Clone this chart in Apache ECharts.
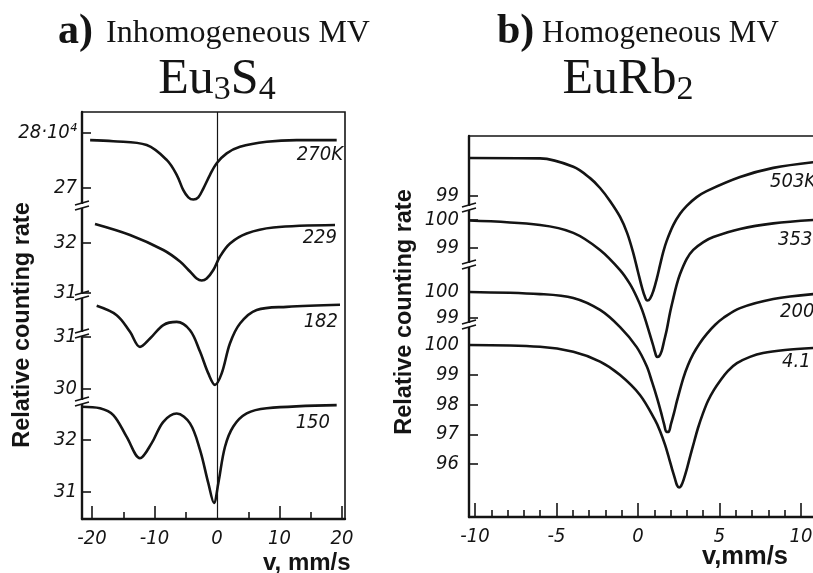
<!DOCTYPE html>
<html>
<head>
<meta charset="utf-8">
<title>Mössbauer spectra: Eu3S4 and EuRb2</title>
<script src="https://cdn.jsdelivr.net/npm/echarts@6/dist/echarts.min.js"></script>
<style>
  html, body { margin: 0; padding: 0; background: #fff; }
  #chart { width: 813px; height: 573px; }
</style>
</head>
<body>
<div id="chart"></div>
<script>
// ---------- data: velocity v (mm/s) and relative counting rate ----------
// a) Eu3S4 (counting rate in units of 10^4)
const eu3s4Temps = ['270K', '229', '182', '150'];
const v270 = [-20.3, -16.6, -11.25, -8.05, -6.45, -5.39, -4.59, -3.79, -2.99, -2.19, -1.12, -0.05, 1.55, 3.68, 7.95, 12.75, 19.15];
const rate270 = [27.87, 27.85, 27.78, 27.51, 27.24, 26.96, 26.83, 26.79, 26.83, 26.99, 27.24, 27.45, 27.63, 27.75, 27.84, 27.87, 27.87];
const v229 = [-19.52, -13.92, -8.59, -5.92, -4.32, -3.25, -2.45, -1.65, -0.59, 0.48, 2.08, 4.75, 9.01, 18.88];
const rate229 = [32.38, 32.16, 31.86, 31.63, 31.43, 31.29, 31.25, 31.29, 31.46, 31.73, 31.99, 32.19, 32.31, 32.36];
const v182 = [-19.25, -16.05, -13.92, -12.32, -10.72, -8.59, -6.45, -4.32, -2.72, -1.39, -0.32, 0.75, 2.08, 3.68, 6.35, 11.15, 19.68];
const rate182 = [31.60, 31.42, 31.10, 30.81, 30.97, 31.23, 31.29, 31.13, 30.72, 30.30, 30.08, 30.30, 30.88, 31.26, 31.52, 31.58, 31.62];
const v150 = [-21.6, -18.72, -16.59, -14.45, -12.32, -10.45, -8.59, -6.45, -4.32, -2.72, -1.39, -0.48, 0.21, 1.28, 2.61, 4.75, 7.95, 19.15];
const rate150 = [32.64, 32.61, 32.48, 32.06, 31.65, 31.94, 32.35, 32.51, 32.32, 31.81, 31.17, 30.79, 31.17, 31.87, 32.26, 32.51, 32.61, 32.67];

// b) EuRb2
const eurb2Temps = ['503K', '353', '200', '4.1'];
const v503 = [-10.37, -6.01, -3.97, -2.94, -2.33, -1.72, -1.10, -0.67, -0.31, 0.00, 0.25, 0.43, 0.57, 0.74, 0.94, 1.15, 1.35, 1.55, 1.76, 2.17, 2.58, 2.99, 3.60, 4.21, 6.26, 8.30, 10.74];
const rate503 = [100.0, 99.99, 99.77, 99.47, 99.21, 98.87, 98.45, 98.03, 97.53, 97.00, 96.58, 96.34, 96.25, 96.30, 96.50, 96.82, 97.18, 97.53, 97.82, 98.24, 98.53, 98.74, 98.97, 99.13, 99.50, 99.74, 99.89];
const v353 = [-10.37, -6.01, -3.97, -2.33, -1.10, -0.49, -0.08, 0.25, 0.53, 0.74, 0.94, 1.04, 1.17, 1.29, 1.45, 1.60, 1.76, 1.96, 2.17, 2.37, 2.58, 2.99, 3.39, 4.01, 4.62, 6.26, 8.30, 10.74];
const rate353 = [99.98, 99.82, 99.54, 98.93, 98.21, 97.71, 97.25, 96.79, 96.29, 95.89, 95.50, 95.29, 95.11, 95.13, 95.32, 95.68, 96.07, 96.68, 97.21, 97.68, 98.07, 98.61, 98.93, 99.21, 99.39, 99.68, 99.88, 100.0];
const v200 = [-10.37, -6.01, -3.97, -2.33, -1.10, -0.08, 0.53, 0.86, 1.17, 1.41, 1.60, 1.75, 1.87, 2.02, 2.21, 2.39, 2.78, 3.07, 3.39, 3.80, 4.21, 4.72, 5.23, 6.26, 8.30, 10.74];
const rate200 = [100.0, 99.92, 99.77, 99.31, 98.65, 97.88, 97.15, 96.54, 95.92, 95.38, 94.92, 94.62, 94.62, 94.92, 95.35, 95.81, 96.69, 97.19, 97.62, 98.04, 98.38, 98.73, 99.00, 99.38, 99.73, 99.92];
const v4 = [-10.37, -6.01, -3.97, -2.33, -1.10, 0.12, 1.04, 1.35, 1.66, 1.90, 2.09, 2.27, 2.39, 2.52, 2.64, 2.79, 2.98, 3.19, 3.44, 3.68, 3.99, 4.29, 4.66, 5.03, 5.52, 6.07, 6.87, 7.67, 9.02, 10.74];
const rate4 = [100.0, 99.94, 99.77, 99.44, 98.99, 98.32, 97.48, 97.11, 96.64, 96.20, 95.83, 95.50, 95.29, 95.21, 95.26, 95.46, 95.80, 96.24, 96.74, 97.21, 97.71, 98.12, 98.49, 98.79, 99.13, 99.39, 99.60, 99.73, 99.83, 99.90];

// tick values and their labels, one list per stacked curve
const eu3s4TickValues = [[28, 27], [32, 31], [31, 30], [32, 31]];
const eu3s4TickLabels = [['28·10⁴', '27'], ['32', '31'], ['31', '30'], ['32', '31']];
const eurb2TickValues = [[99], [100, 99], [100, 99], [100, 99, 98, 97, 96]];
const eurb2TickLabels = [['99'], ['100', '99'], ['100', '99'], ['100', '99', '98', '97', '96']];
const eu3s4VelocityLabels = [-20, -10, 0, 10, 20];
const eu3s4VelocityMajor = [-20, -10, 10, 20];
const eu3s4VelocityMinor = [-15, -5, 5, 15];
const eurb2VelocityLabels = [-10, -5, 0, 5, 10];
const eurb2VelocityMinor = [-9, -8, -7, -6, -4, -3, -2, -1, 1, 2, 3, 4, 6, 7, 8, 9, 11];

// ---------- layout ----------
const INK = '#141414';
const tickFont = "'DejaVu Sans Condensed', 'DejaVu Sans', sans-serif";
const serifFont = "'Liberation Serif', 'DejaVu Serif', serif";
const sansFont = "'Liberation Sans', Arial, sans-serif";

const panelA = { left: 82, top: 112, width: 263, height: 407, vMin: -21.6, vMax: 20.48, labelMargin: 5 };
const panelB = { left: 469, top: 136, width: 354, height: 381, vMin: -10.37, vMax: 11.35, labelMargin: 10 };

// each stacked curve has its own vertical scale: pixel row of one reference value, pixels per unit
const anchorsA = [
  { value: 28, y: 133, ppu: 55 },
  { value: 32, y: 243, ppu: 50 },
  { value: 31, y: 337, ppu: 52 },
  { value: 32, y: 440, ppu: 52 }
];
const anchorsB = [
  { value: 100, y: 158, ppu: 38 },
  { value: 100, y: 220, ppu: 28 },
  { value: 100, y: 292, ppu: 26 },
  { value: 100, y: 345, ppu: 29.75 }
];

const grids = [], xAxes = [], yAxes = [], series = [];

function tickLabelStyle(margin) {
  return { fontFamily: tickFont, fontStyle: 'italic', fontSize: 20, color: INK, margin: margin };
}

function addPanel(panel, anchors, vList, rList, tickVals, tickLabels, xSetup, markZero) {
  const bottomPx = panel.top + panel.height;
  anchors.forEach((a, i) => {
    const idx = grids.length;
    grids.push({
      left: panel.left, top: panel.top, width: panel.width, height: panel.height,
      show: i === 0, borderColor: INK, borderWidth: 1.6, backgroundColor: 'transparent',
      outerBoundsMode: 'none', containLabel: false
    });
    const xs = xSetup[i];
    xAxes.push({
      type: 'value', gridIndex: idx, min: panel.vMin, max: panel.vMax, position: 'bottom',
      show: !!xs,
      axisLine: { show: !!(xs && xs.line), onZero: false, lineStyle: { color: INK, width: 2.4 } },
      axisTick: xs ? { show: true, inside: true, length: xs.tickLen, customValues: xs.ticks, lineStyle: { color: INK, width: 1.6 } } : { show: false },
      axisLabel: xs && xs.labels ? Object.assign({ show: true, customValues: xs.labels }, tickLabelStyle(10)) : { show: false },
      splitLine: { show: false }
    });
    const lookup = {};
    tickVals[i].forEach((v, k) => { lookup[v] = tickLabels[i][k]; });
    yAxes.push({
      type: 'value', gridIndex: idx, position: 'left',
      min: a.value - (bottomPx - a.y) / a.ppu,
      max: a.value + (a.y - panel.top) / a.ppu,
      axisLine: { show: i === 0, onZero: false, lineStyle: { color: INK, width: 2.4 } },
      axisTick: { show: true, inside: true, length: 9, customValues: tickVals[i], lineStyle: { color: INK, width: 1.6 } },
      axisLabel: Object.assign({ show: true, customValues: tickVals[i], formatter: (v) => lookup[v] }, tickLabelStyle(panel.labelMargin)),
      splitLine: { show: false }
    });
    const s = {
      type: 'line', xAxisIndex: idx, yAxisIndex: idx,
      data: vList[i].map((v, k) => [v, rList[i][k]]),
      showSymbol: false, symbol: 'none', smooth: 0.35,
      lineStyle: { color: INK, width: 2.6 },
      silent: true
    };
    if (markZero && i === 0) {
      s.markLine = {
        silent: true, symbol: ['none', 'none'], label: { show: false },
        lineStyle: { color: INK, width: 1.2, type: 'solid' },
        data: [{ xAxis: 0 }]
      };
    }
    series.push(s);
  });
}

addPanel(panelA, anchorsA,
  [v270, v229, v182, v150], [rate270, rate229, rate182, rate150],
  eu3s4TickValues, eu3s4TickLabels,
  [
    { line: true, ticks: eu3s4VelocityMajor, tickLen: 13, labels: eu3s4VelocityLabels },
    { line: false, ticks: eu3s4VelocityMinor, tickLen: 7 },
    null, null
  ], true);

addPanel(panelB, anchorsB,
  [v503, v353, v200, v4], [rate503, rate353, rate200, rate4],
  eurb2TickValues, eurb2TickLabels,
  [
    { line: true, ticks: eurb2VelocityLabels, tickLen: 14, labels: eurb2VelocityLabels },
    { line: false, ticks: eurb2VelocityMinor, tickLen: 7 },
    null, null
  ], false);

// ---------- text and decorations ----------
const measureCtx = document.createElement('canvas').getContext('2d');
function textWidth(str, size, family, weight) {
  measureCtx.font = (weight || 'normal') + ' ' + size + 'px ' + family;
  return measureCtx.measureText(str).width;
}

// chemical formula with subscripts, centred on cx
function formula(parts, cx, cy, mainSize, subSize, drop) {
  const widths = parts.map(p => textWidth(p.t, p.sub ? subSize : mainSize, serifFont));
  const total = widths.reduce((a, b) => a + b, 0);
  let x = cx - total / 2;
  return parts.map((p, k) => {
    const el = {
      type: 'text', x: x, y: cy + (p.sub ? drop : 0), z: 10,
      style: { text: p.t, fontFamily: serifFont, fontSize: p.sub ? subSize : mainSize, fill: INK, verticalAlign: 'middle', align: 'left' }
    };
    x += widths[k];
    return el;
  });
}

// broken-axis marks on the vertical axis
function axisBreak(x, y) {
  return [
    { type: 'rect', z: 20, shape: { x: x - 4, y: y - 2, width: 8, height: 4 }, style: { fill: '#fff' } },
    { type: 'line', z: 21, shape: { x1: x - 7, y1: y - 1, x2: x + 7, y2: y - 5 }, style: { stroke: INK, lineWidth: 1.6 } },
    { type: 'line', z: 21, shape: { x1: x - 7, y1: y + 4, x2: x + 7, y2: y }, style: { stroke: INK, lineWidth: 1.6 } }
  ];
}

function curveLabel(text, x, y, align) {
  return {
    type: 'text', x: x, y: y, z: 10,
    style: { text: text, fontFamily: tickFont, fontStyle: 'italic', fontSize: 20, fill: INK, align: align, verticalAlign: 'middle' }
  };
}

function plainText(text, x, y, size, family, weight, align, rotation) {
  return {
    type: 'text', x: x, y: y, z: 10, rotation: rotation || 0,
    style: { text: text, fontFamily: family, fontSize: size, fontWeight: weight || 'normal', fill: INK, align: align || 'left', verticalAlign: 'middle' }
  };
}

const graphics = [];
// panel headings
graphics.push(plainText('a)', 58, 32, 42, serifFont, 'bold'));
graphics.push(plainText('Inhomogeneous MV', 106, 34, 32, serifFont));
graphics.push(plainText('b)', 497, 32, 42, serifFont, 'bold'));
graphics.push(plainText('Homogeneous MV', 542, 34, 31, serifFont));
formula([{ t: 'Eu' }, { t: '3', sub: true }, { t: 'S' }, { t: '4', sub: true }], 217, 80, 50, 34, 10).forEach(e => graphics.push(e));
formula([{ t: 'EuRb' }, { t: '2', sub: true }], 628, 80, 50, 34, 10).forEach(e => graphics.push(e));

// axis titles
graphics.push(plainText('Relative counting rate', 23, 325, 23.5, sansFont, 'bold', 'center', Math.PI / 2));
graphics.push(plainText('Relative counting rate', 405, 312, 23.5, sansFont, 'bold', 'center', Math.PI / 2));
graphics.push(plainText('v, mm/s', 263, 563, 24, sansFont, 'bold'));
graphics.push(plainText('v,mm/s', 702, 557, 25.5, sansFont, 'bold'));

// temperature labels beside each curve
const labelPosA = [[343, 155], [337, 238], [338, 322], [330, 423]];
eu3s4Temps.forEach((t, i) => graphics.push(curveLabel(t, labelPosA[i][0], labelPosA[i][1], 'right')));
const labelPosB = [[770, 182], [778, 240], [780, 312], [782, 362]];
eurb2Temps.forEach((t, i) => graphics.push(curveLabel(t, labelPosB[i][0], labelPosB[i][1], 'left')));

// axis breaks between the stacked curves
[206, 296, 334, 402].forEach(y => axisBreak(panelA.left, y).forEach(e => graphics.push(e)));
[208, 265, 325].forEach(y => axisBreak(panelB.left, y).forEach(e => graphics.push(e)));

const chart = echarts.init(document.getElementById('chart'), null, { renderer: 'canvas' });
chart.setOption({
  animation: false,
  backgroundColor: '#fff',
  grid: grids,
  xAxis: xAxes,
  yAxis: yAxes,
  series: series,
  graphic: { elements: graphics }
});
</script>
</body>
</html>
